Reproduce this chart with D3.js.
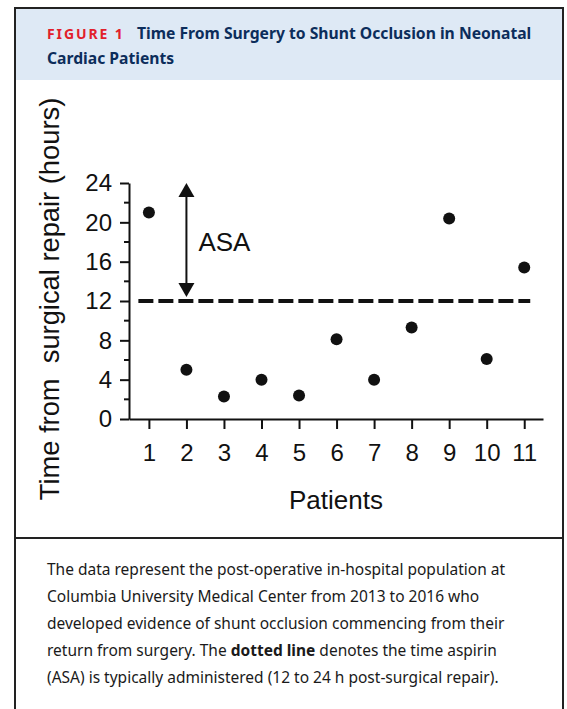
<!DOCTYPE html>
<html>
<head>
<meta charset="utf-8">
<script src="https://cdn.jsdelivr.net/npm/d3@7"></script>
<style>
  body { margin: 0; background: #fff; }
</style>
</head>
<body>
<div class="container"></div>
<script>
const width = 567;
const height = 709;

// data
const patients = [1, 2, 3, 4, 5, 6, 7, 8, 9, 10, 11];
const hours = [21, 5, 2.3, 4, 2.4, 8.1, 4, 9.3, 20.4, 6.1, 15.4];
const yTicks = [0, 4, 8, 12, 16, 20, 24];
const yMinorTicks = [2, 6, 10, 14, 18, 22];
const asaWindow = [12, 24];

const captionLines = [
  'The data represent the post-operative in-hospital population at',
  'Columbia University Medical Center from 2013 to 2016 who',
  'developed evidence of shunt occlusion commencing from their',
  ['return from surgery. The ', 'dotted line', ' denotes the time aspirin'],
  '(ASA) is typically administered (12 to 24 h post-surgical repair).',
];

const svg = d3.select('.container')
  .append('svg')
  .attr('width', width)
  .attr('height', height);

// frame
svg.append('rect')
  .attr('x', 15).attr('y', 8)
  .attr('width', 548).attr('height', 72)
  .attr('fill', '#dee9f5');

svg.append('path')
  .attr('d', 'M15,740V8H563V740')
  .attr('fill', 'none')
  .attr('stroke', '#222')
  .attr('stroke-width', 2);

svg.append('line')
  .attr('x1', 15).attr('x2', 563)
  .attr('y1', 538).attr('y2', 538)
  .attr('stroke', '#222')
  .attr('stroke-width', 2);

// title
const title = svg.append('text')
  .attr('x', 47).attr('y', 39)
  .attr('font-family', '"Noto Sans", sans-serif')
  .attr('font-weight', 'bold');

title.append('tspan')
  .attr('fill', '#e2202b')
  .attr('font-size', 14)
  .attr('letter-spacing', 1.9)
  .text('FIGURE 1');

title.append('tspan')
  .attr('x', 137)
  .attr('fill', '#0c2d5b')
  .attr('font-size', 15.7)
  .text('Time From Surgery to Shunt Occlusion in Neonatal');

svg.append('text')
  .attr('x', 47).attr('y', 64)
  .attr('font-family', '"Noto Sans", sans-serif')
  .attr('font-weight', 'bold')
  .attr('font-size', 15.7)
  .attr('fill', '#0c2d5b')
  .text('Cardiac Patients');

// chart
const x = d3.scaleLinear().domain([0.47, 11.5]).range([129, 543]);
const y = d3.scaleLinear().domain([0, 24]).range([419, 183]);

const font = 'Arial, "Liberation Sans", sans-serif';

const xAxis = svg.append('g')
  .attr('transform', `translate(0,${y(0)})`)
  .call(d3.axisBottom(x).tickValues(patients).tickSize(10).tickPadding(15).tickSizeOuter(0));

const yAxis = svg.append('g')
  .attr('transform', `translate(${x(0.47)},0)`)
  .call(d3.axisLeft(y).tickValues(yTicks).tickSize(9).tickPadding(8).tickSizeOuter(0));

yAxis.selectAll('.minor')
  .data(yMinorTicks)
  .enter()
  .append('line')
  .attr('class', 'minor')
  .attr('x2', -5)
  .attr('y1', d => y(d))
  .attr('y2', d => y(d))
  .attr('stroke', '#111')
  .attr('stroke-width', 2);

[xAxis, yAxis].forEach(g => {
  g.select('.domain').attr('stroke', '#111').attr('stroke-width', 2);
  g.selectAll('.tick line').attr('stroke', '#111').attr('stroke-width', 2);
  g.selectAll('.tick text')
    .attr('font-family', font)
    .attr('font-size', 24)
    .attr('fill', '#111');
});

// aspirin window
svg.append('line')
  .attr('x1', x(0.72)).attr('x2', x(11.16))
  .attr('y1', y(asaWindow[0])).attr('y2', y(asaWindow[0]))
  .attr('stroke', '#111')
  .attr('stroke-width', 4)
  .attr('stroke-dasharray', '15 5');

const ax = x(2);
const arrowTop = y(asaWindow[1]);
const arrowBottom = y(asaWindow[0]) - 4;
svg.append('line')
  .attr('x1', ax).attr('x2', ax)
  .attr('y1', arrowTop + 10).attr('y2', arrowBottom - 10)
  .attr('stroke', '#111')
  .attr('stroke-width', 2);

svg.append('path')
  .attr('d', `M${ax},${arrowTop}L${ax + 8},${arrowTop + 14}L${ax - 8},${arrowTop + 14}Z`)
  .attr('fill', '#111');

svg.append('path')
  .attr('d', `M${ax},${arrowBottom}L${ax + 8},${arrowBottom - 14}L${ax - 8},${arrowBottom - 14}Z`)
  .attr('fill', '#111');

svg.append('text')
  .attr('x', x(2.32))
  .attr('y', y(17.1))
  .attr('font-family', font)
  .attr('font-size', 26)
  .attr('fill', '#111')
  .text('ASA');

// points
svg.selectAll('circle')
  .data(patients)
  .enter()
  .append('circle')
  .attr('cx', d => x(d))
  .attr('cy', (d, i) => y(hours[i]))
  .attr('r', 6)
  .attr('fill', '#111');

// axis titles
svg.append('text')
  .attr('x', 336)
  .attr('y', 509)
  .attr('text-anchor', 'middle')
  .attr('font-family', font)
  .attr('font-size', 26)
  .attr('fill', '#111')
  .text('Patients');

svg.append('text')
  .attr('transform', 'translate(59,299) rotate(-90)')
  .attr('text-anchor', 'middle')
  .attr('font-family', font)
  .attr('font-size', 27.3)
  .attr('fill', '#111')
  .style('white-space', 'pre')
  .text('Time from  surgical repair (hours)');

// caption
const caption = svg.append('g')
  .attr('font-family', '"Noto Sans", sans-serif')
  .attr('font-size', 15.5)
  .attr('fill', '#1a1a1a');

captionLines.forEach((line, i) => {
  const t = caption.append('text')
    .attr('x', 47)
    .attr('y', 575 + i * 27);
  const parts = Array.isArray(line) ? line : [line];
  parts.forEach((p, j) => {
    t.append('tspan')
      .attr('font-weight', j === 1 ? 'bold' : null)
      .style('white-space', 'pre')
      .text(p);
  });
});
</script>
</body>
</html>
